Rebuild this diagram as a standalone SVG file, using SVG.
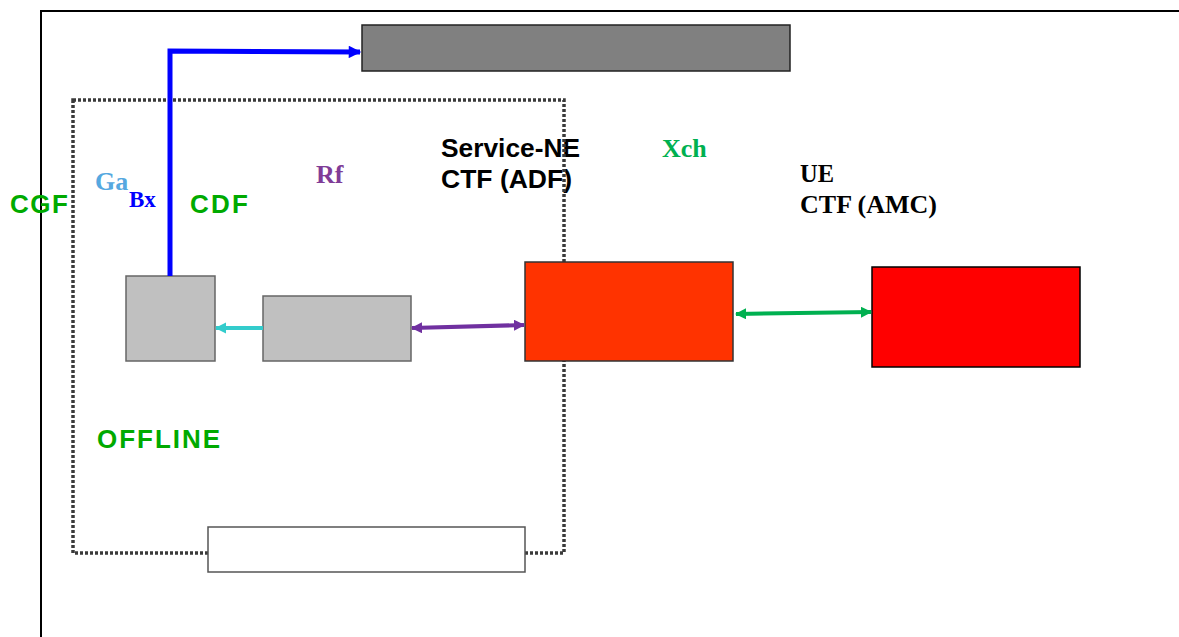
<svg xmlns="http://www.w3.org/2000/svg" width="1179" height="637" viewBox="0 0 1179 637">
  <style>
    .sans { font-family: "Liberation Sans", Arial, sans-serif; font-weight: bold; }
    .serif { font-family: "Liberation Serif", "Times New Roman", serif; font-weight: bold; }
    .grn { fill: #00aa00; }
    .box { stroke-width: 1.5; }
  </style>
  <defs>
    <marker id="ahBlue" viewBox="0 0 10 10" refX="9" refY="5" markerWidth="3.5" markerHeight="2.5" orient="auto" markerUnits="strokeWidth">
      <path d="M0,0 L10,5 L0,10 Z" fill="#0000ff"/>
    </marker>
    <marker id="ahCyan" viewBox="0 0 10 10" refX="9" refY="5" markerWidth="2.8" markerHeight="2.8" orient="auto-start-reverse" markerUnits="strokeWidth">
      <path d="M0,0 L10,5 L0,10 Z" fill="#33cccc"/>
    </marker>
    <marker id="ahPurple" viewBox="0 0 10 10" refX="9" refY="5" markerWidth="2.8" markerHeight="2.8" orient="auto-start-reverse" markerUnits="strokeWidth">
      <path d="M0,0 L10,5 L0,10 Z" fill="#7030a0"/>
    </marker>
    <marker id="ahGreen" viewBox="0 0 10 10" refX="9" refY="5" markerWidth="2.8" markerHeight="2.8" orient="auto-start-reverse" markerUnits="strokeWidth">
      <path d="M0,0 L10,5 L0,10 Z" fill="#00b050"/>
    </marker>
  </defs>

  <g id="frame">
    <path d="M41,637 V11 H1179" fill="none" stroke="#000" stroke-width="2"/>
  </g>

  <g id="labels">
    <text x="10" y="213" class="sans grn" font-size="26" textLength="58" lengthAdjust="spacing">CGF</text>
    <text x="190" y="213" class="sans grn" font-size="26" textLength="58" lengthAdjust="spacing">CDF</text>
    <text x="97" y="448" class="sans grn" font-size="26" textLength="123" lengthAdjust="spacing">OFFLINE</text>
    <text x="95" y="190" class="serif" font-size="26" fill="#55a8e0">Ga</text>
    <text x="129" y="207" class="serif" font-size="23" fill="#0000ff">Bx</text>
    <text x="316" y="183" class="serif" font-size="26" fill="#803c97">Rf</text>
    <text x="662" y="157" class="serif" font-size="26" fill="#00b050">Xch</text>
    <text x="441" y="157" class="sans" font-size="25" fill="#000" textLength="139" lengthAdjust="spacingAndGlyphs">Service-NE</text>
    <text x="441" y="188" class="sans" font-size="25" fill="#000" textLength="131" lengthAdjust="spacingAndGlyphs">CTF (ADF)</text>
    <text x="800" y="182" class="serif" font-size="25" fill="#000" textLength="34" lengthAdjust="spacingAndGlyphs">UE</text>
    <text x="800" y="213" class="serif" font-size="25" fill="#000" textLength="137" lengthAdjust="spacingAndGlyphs">CTF (AMC)</text>
  </g>

  <g id="offline-domain">
    <rect x="73" y="100" width="491" height="453" fill="none" stroke="#3a3a3a" stroke-width="3.5" stroke-dasharray="3 2"/>
  </g>

  <g id="billing-domain">
    <rect x="362" y="25" width="428" height="46" fill="#808080" stroke="#222" class="box"/>
  </g>

  <g id="cgf">
    <rect x="126" y="276" width="89" height="85" fill="#c0c0c0" stroke="#666" class="box"/>
  </g>

  <g id="cdf">
    <rect x="263" y="296" width="148" height="65" fill="#c0c0c0" stroke="#666" class="box"/>
  </g>

  <g id="service-ne">
    <rect x="525" y="262" width="208" height="99" fill="#ff3300" stroke="#333" class="box"/>
  </g>

  <g id="ue">
    <rect x="872" y="267" width="208" height="100" fill="#ff0000" stroke="#000" class="box"/>
  </g>

  <g id="bottom-box">
    <rect x="208" y="527" width="317" height="45" fill="#fff" stroke="#555" class="box"/>
  </g>

  <g id="connectors" fill="none">
    <polyline points="170,276 170,51 360,52" stroke="#0000ff" stroke-width="5" marker-end="url(#ahBlue)"/>
    <line x1="263" y1="328" x2="216" y2="328" stroke="#33cccc" stroke-width="4" marker-end="url(#ahCyan)"/>
    <line x1="412" y1="328" x2="524" y2="325" stroke="#7030a0" stroke-width="4" marker-start="url(#ahPurple)" marker-end="url(#ahPurple)"/>
    <line x1="736" y1="314" x2="871" y2="312" stroke="#00b050" stroke-width="4" marker-start="url(#ahGreen)" marker-end="url(#ahGreen)"/>
  </g>
</svg>
